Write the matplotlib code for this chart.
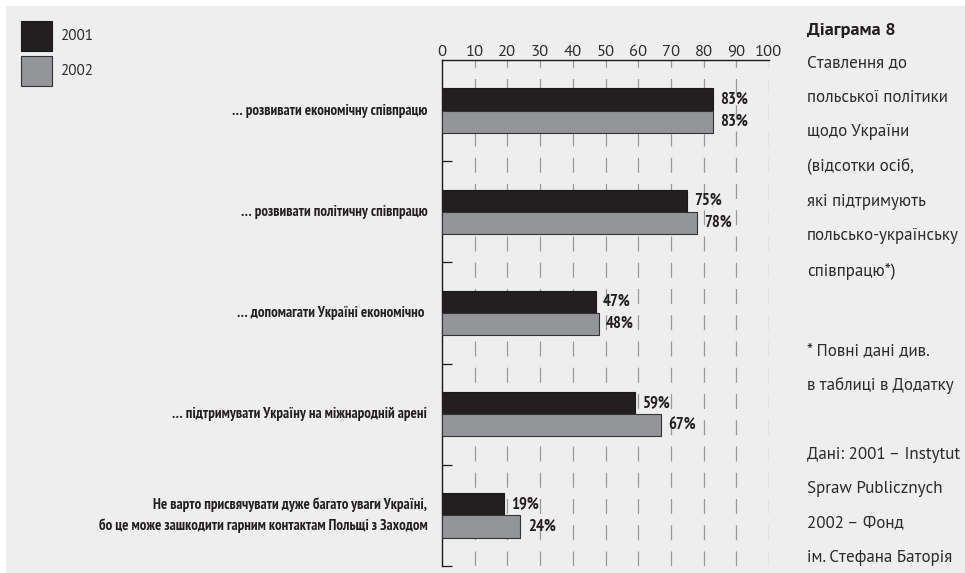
### horizontal bar chart: Polish attitudes to cooperation with Ukraine

import numpy as np

import matplotlib as mpl
mpl.use('agg')
import matplotlib.pyplot as plt
from matplotlib.patches import Rectangle
from matplotlib import font_manager

### data
categories = [
    '… розвивати економічну співпрацю',
    '… розвивати політичну співпрацю',
    '… допомагати Україні економічно ',
    '… підтримувати Україну на міжнародній арені',
    'Не варто присвячувати дуже багато уваги Україні,\nбо це може зашкодити гарним контактам Польщі з Заходом',
]
values_2001 = [83, 75, 47, 59, 19]
values_2002 = [83, 78, 48, 67, 24]
series_labels = ['2001', '2002']
xticks = [0, 10, 20, 30, 40, 50, 60, 70, 80, 90, 100]

side_title = 'Діаграма 8'
side_lines = ['Ставлення до', 'польської політики', 'щодо України', '(відсотки осіб,',
              'які підтримують', 'польсько-українську', 'співпрацю*)']
note_lines = ['* Повні дані див.', 'в таблиці в Додатку']
source_lines = ['Дані: 2001 – Instytut', 'Spraw Publicznych', '2002 – Фонд', 'ім. Стефана Баторія']

### style
W, H = 965, 573
BG = '#eeeeee'
C2001 = '#231f20'
C2002 = '#939598'
TXT = '#2b2b2b'

weights = {}
for f in font_manager.fontManager.ttflist:
    weights.setdefault(f.name, set()).add(f.weight)

def pick(prefs):
    # first family that has both a regular and a bold face
    for p in prefs:
        w = weights.get(p, set())
        if 400 in w and 700 in w:
            return [p, 'DejaVu Sans']
    return ['DejaVu Sans']

COND = pick(['PT Sans Narrow', 'Fira Sans Condensed', 'Roboto Condensed', 'Open Sans Condensed', 'Roboto'])
LIGHT = pick(['Source Sans 3', 'Source Sans Pro', 'PT Sans', 'Fira Sans', 'Lato'])

def fx(px):
    return px / W

def fy(py):
    return 1 - py / H

fig = plt.figure(figsize=(W / 100, H / 100), dpi=100)
fig.patch.set_facecolor('white')
renderer = fig.canvas.get_renderer()

def fit_size(s, family, weight, target_px, base=10.0):
    # font size that gives the string the width measured on the reference
    t = fig.text(0, 0, s, family=family, fontweight=weight, fontsize=base)
    w = t.get_window_extent(renderer).width
    t.remove()
    return base * target_px / w

cat_size = fit_size('бо це може зашкодити гарним контактам Польщі з Заходом', COND, 'bold', 332)
val_size = fit_size('83%', COND, 'bold', 28)
side_size = fit_size('польсько-українську', LIGHT, 'normal', 154)
title_size = fit_size(side_title, LIGHT, 'bold', 89)
tick_size = fit_size('100', LIGHT, 'normal', 27)
leg_size = fit_size('2001', LIGHT, 'normal', 33)

fig.patches.append(Rectangle((fx(6), 0), 1 - fx(6), fy(6), transform=fig.transFigure,
                             facecolor=BG, edgecolor='none', zorder=-10))

# axes box in pixels
x0, x1 = 442, 769
y0, y1 = 60, 566
ax = fig.add_axes([fx(x0), fy(y1), fx(x1) - fx(x0), fy(y0) - fy(y1)])
ax.set_facecolor('none')

n = len(categories)
ypos = np.arange(n) + 0.5
bh = 0.22

ax.barh(ypos - bh / 2, values_2001, height=bh, color=C2001, edgecolor='#1a1a1a',
        linewidth=0.8, zorder=3)
ax.barh(ypos + bh / 2, values_2002, height=bh, color=C2002, edgecolor='#333333',
        linewidth=0.8, zorder=3)

for i in range(n):
    ax.text(values_2001[i] + 2.2, ypos[i] - bh / 2, '%d%%' % values_2001[i],
            va='center', ha='left', fontsize=val_size, fontweight='bold', family=COND, color=C2001)
    ax.text(values_2002[i] + 2.2, ypos[i] + bh / 2, '%d%%' % values_2002[i],
            va='center', ha='left', fontsize=val_size, fontweight='bold', family=COND, color=C2001)
    ax.text(-4.5, ypos[i], categories[i], va='center', ha='right', fontsize=cat_size,
            fontweight='bold', family=COND, color=C2001, linespacing=1.55)

# dashed gridlines
for xv in xticks[1:]:
    ax.axvline(xv, color='#9a9a9a', linewidth=0.9, linestyle=(0, (12, 9)), zorder=1)

ax.set_xlim(0, 100)
ax.set_ylim(n, 0)

ax.xaxis.tick_top()
ax.set_xticks(xticks)
ax.set_xticklabels([str(v) for v in xticks], family=LIGHT, fontsize=tick_size, color=TXT)
ax.tick_params(axis='x', length=0, pad=1)

ax.set_yticks(np.arange(1, n + 1))
ax.set_yticklabels([])
ax.tick_params(axis='y', direction='in', length=7, width=0.9, color='#1a1a1a')

for s in ['right', 'bottom']:
    ax.spines[s].set_visible(False)
ax.spines['top'].set_linewidth(1.0)
ax.spines['left'].set_linewidth(1.0)
ax.spines['top'].set_color('#1a1a1a')
ax.spines['left'].set_color('#1a1a1a')

### legend squares
fig.patches.append(Rectangle((fx(21), fy(51)), fx(31), 30 / H, transform=fig.transFigure,
                             facecolor=C2001, edgecolor='#1a1a1a', linewidth=0.8))
fig.patches.append(Rectangle((fx(21), fy(86)), fx(31), 30 / H, transform=fig.transFigure,
                             facecolor=C2002, edgecolor='#333333', linewidth=0.8))
fig.text(fx(60), fy(36), series_labels[0], va='center', ha='left', family=LIGHT, fontsize=leg_size, color=TXT)
fig.text(fx(60), fy(71), series_labels[1], va='center', ha='left', family=LIGHT, fontsize=leg_size, color=TXT)

### side panel text
tx = fx(807)
fig.text(tx, fy(30), side_title, va='center', ha='left', family=LIGHT, fontsize=title_size,
         fontweight='bold', color=C2001)
for k, line in enumerate(side_lines):
    fig.text(tx, fy(63 + 34.7 * k), line, va='center', ha='left', family=LIGHT, fontsize=side_size, color=TXT)
for k, line in enumerate(note_lines):
    fig.text(tx, fy(352 + 33.5 * k), line, va='center', ha='left', family=LIGHT, fontsize=side_size, color=TXT)
for k, line in enumerate(source_lines):
    fig.text(tx, fy(455 + 34.3 * k), line, va='center', ha='left', family=LIGHT, fontsize=side_size, color=TXT)

plt.savefig('out.png', dpi=100, facecolor=fig.get_facecolor())
plt.close()
